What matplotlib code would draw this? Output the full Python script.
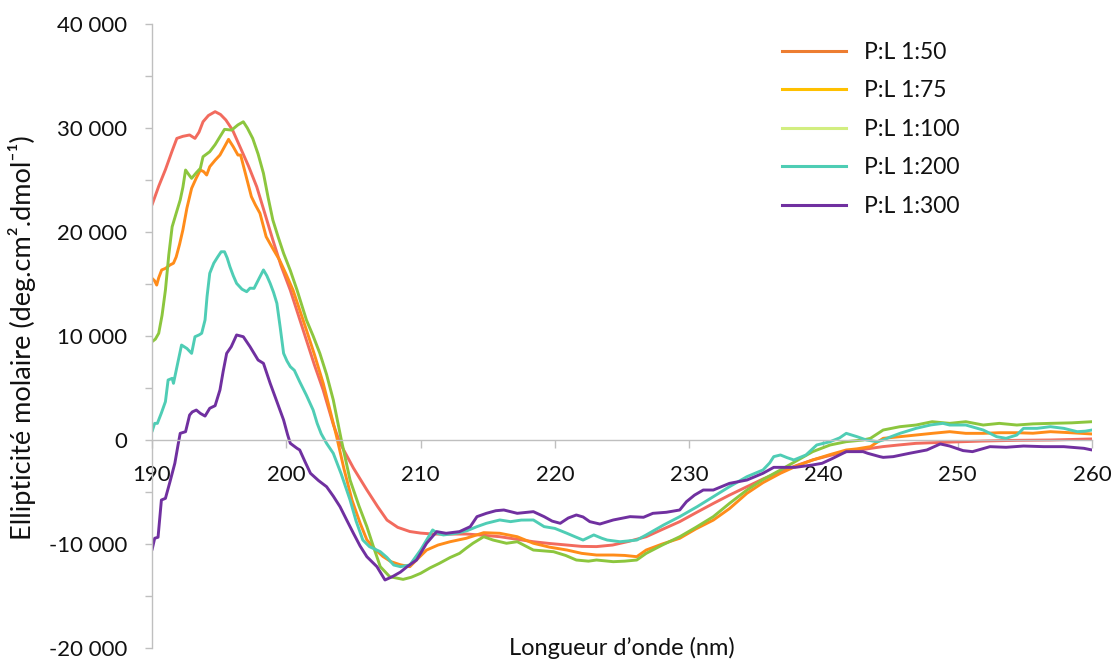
import matplotlib
matplotlib.use("Agg")
import matplotlib.pyplot as plt
from matplotlib.lines import Line2D
from matplotlib.ticker import FixedLocator, FuncFormatter

plt.rcParams["font.family"] = ["Lato", "DejaVu Sans"]
plt.rcParams["axes.unicode_minus"] = False

# ---- CD spectra: molar ellipticity vs wavelength, one series per peptide:lipid ratio ----
labels = ["P:L 1:50", "P:L 1:75", "P:L 1:100", "P:L 1:200", "P:L 1:300"]

wl_150 = [190.0, 190.5, 191.0, 191.5, 191.85, 192.3, 192.8, 193.2, 193.5, 193.8, 194.2, 194.7,
          195.1, 195.5, 196.0, 196.55, 197.2, 197.8, 198.4, 199.0, 199.6, 200.3, 200.9, 201.5,
          202.1, 202.75, 203.5, 204.0, 205.0, 206.0, 206.8, 207.5, 208.3, 209.2, 210.0, 210.9,
          212.0, 213.4, 214.6, 215.9, 217.2, 218.4, 219.6, 220.9, 222.0, 223.1, 224.3, 225.5,
          226.8, 228.0, 229.3, 230.5, 231.8, 233.0, 234.3, 235.5, 236.8, 238.0, 239.2, 240.5,
          241.7, 243.0, 244.4, 245.6, 246.9, 249.4, 251.9, 254.4, 256.9, 258.5, 260.0]
el_150 = [22600, 24400, 26000, 27800, 29000, 29200, 29330, 29000, 29600, 30600, 31200, 31570,
          31300, 30770, 29800, 28200, 26300, 24350, 21800, 19230, 16800, 14400, 12000, 9600,
          7200, 4800, 1500, -300, -2700, -4800, -6400, -7700, -8400, -8800, -8950, -9040,
          -9050, -9040, -9150, -9300, -9550, -9780, -9950, -10100, -10230, -10250, -10100, -9750,
          -9300, -8600, -7850, -7000, -6100, -5300, -4490, -3750, -3040, -2450, -1920, -1480,
          -1120, -900, -640, -480, -320, -200, -100, -30, 0, 50, 100]

wl_175 = [190.0, 190.2, 190.35, 190.5, 190.72, 191.0, 191.34, 191.6, 191.8, 192.05, 192.3, 192.6,
          192.95, 193.3, 193.6, 193.85, 194.07, 194.3, 194.7, 195.06, 195.4, 195.7, 196.05, 196.4,
          196.6, 197.0, 197.4, 197.7, 198.04, 198.5, 199.0, 199.5, 200.0, 200.5, 201.0, 201.5,
          202.1, 202.75, 203.25, 203.75, 204.3, 204.9, 205.5, 206.0, 206.6, 207.2, 207.8, 208.5,
          209.2, 209.8, 210.45, 211.3, 212.2, 213.4, 214.7, 215.9, 217.2, 218.4, 219.6, 220.9,
          222.0, 223.1, 224.35, 225.2, 226.1, 226.8, 228.0, 229.3, 230.5, 231.8, 233.0, 234.3,
          235.5, 236.8, 238.0, 239.2, 240.5, 241.7, 242.5, 243.5, 244.45, 245.7, 246.9, 248.1,
          249.4, 250.6, 251.9, 253.1, 254.4, 255.6, 256.9, 258.4, 260.0]
el_175 = [15550, 15300, 14900, 15600, 16350, 16500, 16830, 17000, 17600, 18800, 20200, 22300,
          24200, 25200, 25960, 25800, 25480, 26280, 26900, 27400, 28200, 28910, 28200, 27400,
          27400, 25400, 23400, 22600, 21800, 19550, 18400, 17300, 15900, 14420, 12500, 10580,
          8200, 5450, 2900, 320, -2800, -5800, -8000, -9600, -10500, -11200, -11700, -12000,
          -12180, -11400, -10580, -10100, -9780, -9450, -8910, -8970, -9300, -9930, -10300, -10580,
          -10900, -11060, -11060, -11100, -11220, -10580, -10000, -9450, -8550, -7700, -6600, -5130,
          -4100, -3200, -2500, -1920, -1400, -960, -850, -640, 160, 320, 480, 640,
          800, 640, 640, 700, 700, 650, 800, 700, 580]

wl_1100 = [190.0, 190.25, 190.5, 190.75, 191.0, 191.25, 191.5, 191.8, 192.1, 192.3, 192.5, 192.75,
           192.95, 193.3, 193.6, 193.8, 194.3, 194.7, 195.06, 195.4, 195.93, 196.4, 196.8, 197.1,
           197.5, 197.9, 198.3, 198.65, 199.0, 199.4, 199.8, 200.3, 200.8, 201.5, 202.0, 202.5,
           203.0, 203.5, 204.1, 204.75, 205.4, 206.0, 206.5, 207.0, 207.7, 208.7, 209.3, 210.0,
           210.7, 211.4, 212.2, 212.9, 213.4, 213.9, 214.7, 215.4, 216.4, 217.2, 218.4, 219.9,
           220.8, 221.6, 222.5, 223.1, 224.35, 225.2, 226.1, 226.8, 228.0, 229.3, 230.5, 231.8,
           233.0, 234.3, 235.5, 236.8, 238.0, 239.2, 240.5, 241.7, 242.95, 243.5, 244.45, 245.7,
           246.9, 248.1, 249.4, 250.6, 251.9, 253.1, 254.4, 255.6, 256.9, 258.5, 260.0]
el_1100 = [9450, 9700, 10260, 12000, 14420, 17800, 20500, 21800, 23080, 24300, 25960, 25500,
           25160, 25700, 26120, 27240, 27720, 28400, 29160, 29870, 29800, 30300, 30600, 30000,
           29000, 27500, 25640, 23300, 21150, 19500, 17950, 16300, 14420, 11540, 10000, 8330,
           6300, 3850, 0, -3850, -6300, -8330, -10300, -12180, -13140, -13400, -13200, -12820,
           -12300, -11860, -11300, -10900, -10400, -9930, -9300, -9620, -9930, -9780, -10580, -10740,
           -11100, -11540, -11650, -11540, -11700, -11650, -11540, -10900, -10100, -9300, -8400, -7370,
           -6100, -4810, -3800, -2880, -2000, -1120, -480, -160, 0, 160, 960, 1280,
           1440, 1760, 1600, 1760, 1440, 1600, 1440, 1550, 1600, 1650, 1760]

wl_1200 = [190.0, 190.2, 190.4, 190.7, 191.0, 191.2, 191.5, 191.6, 191.9, 192.2, 192.6, 192.95,
           193.2, 193.5, 193.7, 193.95, 194.1, 194.3, 194.6, 194.9, 195.15, 195.4, 195.6, 195.8,
           196.05, 196.3, 196.7, 197.05, 197.3, 197.6, 198.0, 198.3, 198.55, 198.8, 199.05, 199.3,
           199.55, 199.8, 200.05, 200.3, 200.6, 201.0, 201.5, 202.0, 202.3, 202.6, 203.0, 203.5,
           204.1, 204.75, 205.2, 205.7, 206.2, 207.0, 207.5, 208.0, 208.5, 209.2, 210.0, 210.9,
           211.3, 211.7, 212.7, 213.5, 214.2, 214.9, 215.9, 216.7, 217.5, 218.4, 219.2, 220.0,
           220.9, 221.5, 222.1, 222.9, 223.5, 223.9, 224.85, 225.5, 226.1, 226.8, 228.1, 229.3,
           230.6, 231.8, 233.0, 234.3, 235.5, 236.0, 236.3, 236.8, 237.3, 237.8, 238.7, 239.5,
           240.5, 241.2, 241.7, 242.5, 243.2, 244.0, 244.45, 245.0, 245.7, 246.9, 248.0, 248.9,
           249.4, 250.6, 251.9, 252.9, 253.6, 254.4, 254.9, 255.9, 256.9, 257.9, 258.9, 259.5,
           260.0]
el_1200 = [800, 1600, 1600, 2600, 3690, 5770, 5930, 5450, 7300, 9130, 8800, 8330,
           9930, 10100, 10260, 11540, 13800, 16030, 17000, 17620, 18100, 18100, 17500, 16670,
           15800, 15060, 14500, 14260, 14600, 14580, 15600, 16350, 15800, 15060, 14200, 13140,
           10800, 8330, 7600, 7050, 6700, 5600, 4300, 2880, 1600, 600, -320, -1280,
           -3300, -5770, -7800, -9620, -10260, -10740, -11300, -12020, -12180, -12020, -10580, -8650,
           -9000, -9130, -8970, -8700, -8330, -8010, -7690, -7850, -7700, -7690, -8330, -8500,
           -8970, -9300, -9620, -9130, -9450, -9620, -9780, -9700, -9620, -9130, -8170, -7370,
           -6410, -5450, -4490, -3530, -2880, -2200, -1600, -1440, -1700, -1920, -1440, -480,
           -160, 200, 640, 320, 0, -160, 0, 300, 640, 1120, 1450, 1600,
           1440, 1440, 960, 320, 160, 480, 1120, 1120, 1280, 1120, 800, 850,
           960]

wl_1300 = [190.0, 190.2, 190.45, 190.7, 191.0, 191.34, 191.7, 191.95, 192.1, 192.5, 192.8, 193.0,
           193.3, 193.6, 193.95, 194.3, 194.7, 195.06, 195.3, 195.56, 195.9, 196.3, 196.8, 197.3,
           197.9, 198.3, 198.8, 199.3, 199.8, 200.1, 200.3, 200.8, 201.0, 201.4, 201.8, 202.4,
           203.0, 203.5, 204.0, 204.5, 205.0, 205.5, 206.0, 206.75, 207.35, 207.9, 208.5, 209.0,
           209.7, 210.45, 211.2, 211.9, 212.9, 213.7, 214.2, 214.9, 215.6, 216.2, 217.2, 218.4,
           219.2, 219.8, 220.4, 221.0, 221.6, 222.1, 222.6, 223.35, 224.35, 225.6, 226.6, 227.3,
           228.3, 229.3, 229.8, 230.4, 231.05, 231.8, 233.0, 234.3, 235.5, 236.3, 237.9, 239.2,
           239.9, 240.7, 241.7, 242.95, 243.3, 244.2, 244.45, 245.2, 246.4, 247.7, 248.7, 249.4,
           250.4, 251.1, 252.4, 253.6, 254.9, 256.4, 257.9, 259.4, 260.0]
el_1300 = [-10580, -9450, -9350, -5770, -5610, -4010, -2240, -400, 640, 800, 2400, 2700,
           2880, 2560, 2300, 3050, 3300, 4810, 6600, 8330, 8970, 10100, 9930, 8970,
           7690, 7370, 5450, 3690, 1920, 500, -320, -800, -960, -2100, -3200, -3900,
           -4490, -5400, -6410, -7700, -8970, -10200, -11220, -12180, -13460, -13140, -12700, -12180,
           -11540, -9930, -8810, -8970, -8810, -8330, -7370, -7050, -6800, -6730, -7050, -6890,
           -7370, -7800, -8010, -7500, -7210, -7400, -7850, -8080, -7690, -7370, -7430, -7050,
           -6950, -6730, -5930, -5300, -4810, -4810, -4170, -3850, -3200, -2630, -2630, -2400,
           -2240, -1760, -1120, -1120, -1280, -1600, -1670, -1600, -1280, -960, -380, -580,
           -1020, -1120, -640, -700, -580, -640, -640, -800, -960]

wavelengths = [wl_150, wl_175, wl_1100, wl_1200, wl_1300]
ellipticity = [el_150, el_175, el_1100, el_1200, el_1300]

line_colors = ["#F26B5E", "#FF8C1A", "#8CC63E", "#4FCDB5", "#7030A0"]
legend_colors = ["#ED7D31", "#FFC000", "#D2EE80", "#4ECDB4", "#7030A0"]

y_ticks = [-20000, -10000, 0, 10000, 20000, 30000, 40000]
y_minor = [-15000, -5000, 5000, 15000, 25000, 35000]
x_ticks = [190, 200, 210, 220, 230, 240, 250, 260]

W, H = 1117, 659
fig = plt.figure(figsize=(W / 100, H / 100), dpi=100)
ax = fig.add_axes([152 / W, 1 - 648 / H, 940 / W, 624 / H])

for wl, el, c in zip(wavelengths, ellipticity, line_colors):
    ax.plot(wl, el, color=c, lw=2.1, solid_joinstyle="round", solid_capstyle="round")

ax.set_xlim(190, 260)
ax.set_ylim(-20000, 40000)

axis_grey = "#BFBFBF"
for side in ("top", "right"):
    ax.spines[side].set_visible(False)
ax.spines["left"].set_color(axis_grey)
ax.spines["bottom"].set_color(axis_grey)
ax.spines["left"].set_linewidth(1.0)
ax.spines["bottom"].set_linewidth(1.0)
ax.spines["bottom"].set_position(("data", 0))

ax.yaxis.set_major_locator(FixedLocator(y_ticks))
ax.yaxis.set_minor_locator(FixedLocator(y_minor))
ax.yaxis.set_major_formatter(FuncFormatter(lambda v, p: f"{int(v):,}".replace(",", " ")))
ax.xaxis.set_major_locator(FixedLocator(x_ticks))

ax.tick_params(axis="y", which="both", direction="out", length=5, width=1.0,
               color=axis_grey, labelsize=16, pad=13, labelcolor="#111111")
ax.tick_params(axis="x", which="major", direction="out", length=6, width=1.0,
               color=axis_grey, labelsize=16, pad=12, labelcolor="#111111")

fig.text(622 / W, 1 - 648 / H, "Longueur d’onde (nm)", ha="center", va="center",
         fontsize=17, color="#111111")
fig.text(22 / W, 1 - 338 / H, "Ellipticité molaire (deg.cm².dmol⁻¹)", ha="center",
         va="center", rotation=90, fontsize=19.5, color="#111111")

handles = [Line2D([0], [0], color=c, lw=2.2) for c in legend_colors]
fig.legend(handles, labels, loc="upper left", bbox_to_anchor=(782 / W, 1 - 42 / H),
           frameon=False, fontsize=16.5, handlelength=2.8, handletextpad=0.8,
           labelspacing=0.76, borderpad=0, borderaxespad=0, labelcolor="#111111")

fig.savefig("out.png", dpi=100)
